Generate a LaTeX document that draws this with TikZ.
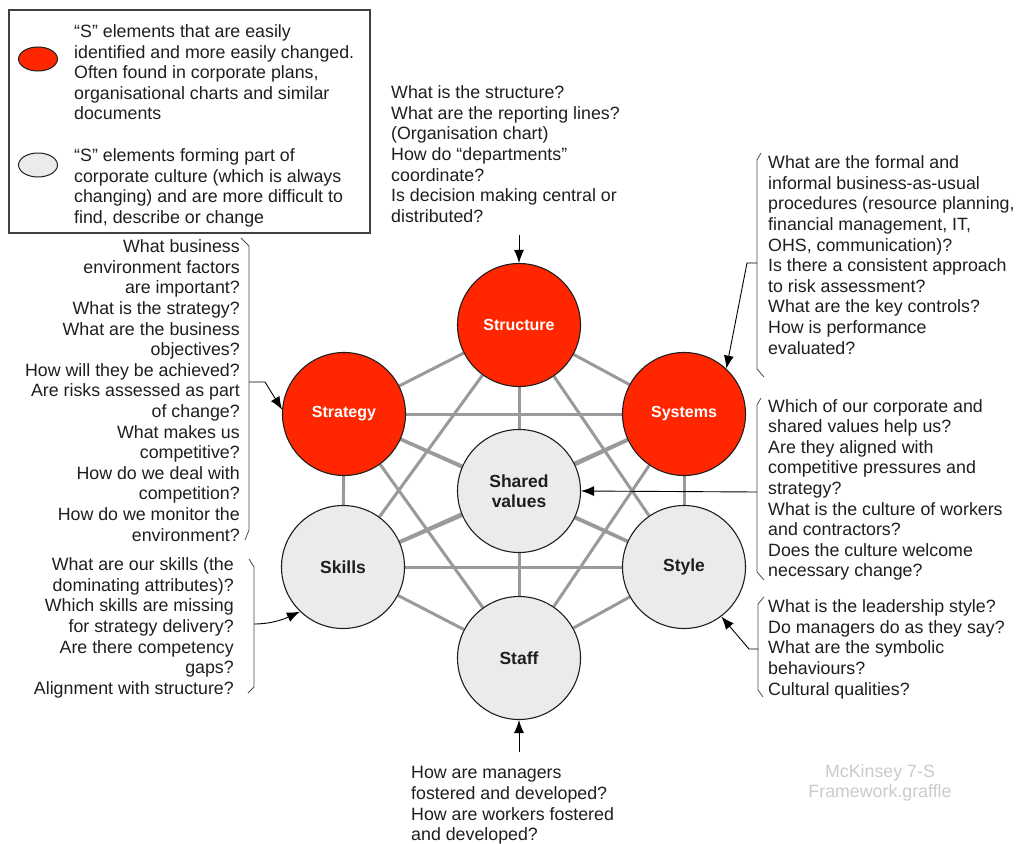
\documentclass[tikz,border=0pt]{standalone}
\usepackage{fontspec}
\setmainfont{Liberation Sans}
\usetikzlibrary{arrows.meta,shapes.geometric}
\pgfdeclarelayer{bg}
\pgfsetlayers{bg,main}
\definecolor{sred}{HTML}{FF2600}
\definecolor{sgrey}{HTML}{EBEBEB}
\definecolor{edgegrey}{HTML}{9A9A9A}
\definecolor{ink}{HTML}{1E1E1E}
\definecolor{wmark}{HTML}{CACACA}
\tikzset{
    hard/.style={circle, draw=ink, line width=1.1pt, fill=sred, minimum size=123pt, inner sep=0pt, text=white, font=\fontsize{16}{19}\selectfont\bfseries},
    soft/.style={circle, draw=ink, line width=1.1pt, fill=sgrey, minimum size=123pt, inner sep=0pt, text=ink, align=center, font=\fontsize{17.5}{20.4}\selectfont\bfseries},
    key/.style={ellipse, draw=ink, line width=1pt, minimum width=39pt, minimum height=24pt, inner sep=0pt},
    question/.style={inner sep=0pt, text=ink, font=\fontsize{17.8}{20.6}\selectfont},
    link/.style={draw=edgegrey, line width=3pt},
    pointer/.style={draw=black, line width=0.9pt, -{Latex[length=13pt,width=10pt]}},
    bracket/.style={draw=ink!80, line width=0.8pt}
}

\begin{document}
\begin{tikzpicture}
    \useasboundingbox (0pt,0pt) rectangle (1019pt,-843pt);

    % legend
    \draw [draw=ink!85, line width=1.4pt] (9pt,-10pt) rectangle (370pt,-233pt);
    \node (keyhard) [key, fill=sred] at (38pt,-59pt) {};
    \node (keysoft) [key, fill=sgrey] at (38pt,-165pt) {};
    \node (keyhardtext) [question, anchor=north west, align=left] at (74pt,-24.5pt) {“S” elements that are easily\\identified and more easily changed.\\Often found in corporate plans,\\organisational charts and similar\\documents};
    \node (keysofttext) [question, anchor=north west, align=left] at (74pt,-148.5pt) {“S” elements forming part of\\corporate culture (which is always\\changing) and are more difficult to\\find, describe or change};

    % the seven S
    \node (structure) [hard] at (519pt,-325pt) {Structure};
    \node (strategy) [hard] at (344pt,-414pt) {Strategy};
    \node (systems) [hard] at (684pt,-414pt) {Systems};
    \node (shared) [soft] at (519pt,-491pt) {Shared\\values};
    \node (skills) [soft] at (343pt,-567pt) {Skills};
    \node (style) [soft] at (684pt,-567pt) {Style};
    \node (staff) [soft] at (519pt,-658pt) {Staff};

    \begin{pgfonlayer}{bg}
        \begin{scope}[link]
            \draw (structure) edge (strategy);
            \draw (structure) edge (systems);
            \draw (structure) edge (shared);
            \draw (structure) edge (skills);
            \draw (structure) edge (style);
            \draw (structure) edge (staff);
            \draw (strategy) edge (systems);
            \draw (strategy) edge (shared);
            \draw (strategy) edge (skills);
            \draw (strategy) edge (style);
            \draw (strategy) edge (staff);
            \draw (systems) edge (shared);
            \draw (systems) edge (skills);
            \draw (systems) edge (style);
            \draw (systems) edge (staff);
            \draw (shared) edge (skills);
            \draw (shared) edge (style);
            \draw (shared) edge (staff);
            \draw (skills) edge (style);
            \draw (skills) edge (staff);
            \draw (style) edge (staff);
        \end{scope}
    \end{pgfonlayer}

    % questions
    \node (structureq) [question, anchor=north west, align=left] at (391pt,-85.5pt) {What is the structure?\\What are the reporting lines?\\(Organisation chart)\\How do “departments”\\coordinate?\\Is decision making central or\\distributed?};
    \node (systemsq) [question, anchor=north west, align=left] at (768pt,-155.5pt) {What are the formal and\\informal business-as-usual\\procedures (resource planning,\\financial management, IT,\\OHS, communication)?\\Is there a consistent approach\\to risk assessment?\\What are the key controls?\\How is performance\\evaluated?};
    \node (sharedq) [question, anchor=north west, align=left] at (768pt,-399pt) {Which of our corporate and\\shared values help us?\\Are they aligned with\\competitive pressures and\\strategy?\\What is the culture of workers\\and contractors?\\Does the culture welcome\\necessary change?};
    \node (styleq) [question, anchor=north west, align=left] at (768pt,-599.5pt) {What is the leadership style?\\Do managers do as they say?\\What are the symbolic\\behaviours?\\Cultural qualities?};
    \node (strategyq) [question, anchor=north east, align=right] at (240pt,-239.5pt) {What business\\environment factors\\are important?\\What is the strategy?\\What are the business\\objectives?\\How will they be achieved?\\Are risks assessed as part\\of change?\\What makes us\\competitive?\\How do we deal with\\competition?\\How do we monitor the\\environment?};
    \node (skillsq) [question, anchor=north east, align=right] at (234pt,-557.5pt) {What are our skills (the\\dominating attributes)?\\Which skills are missing\\for strategy delivery?\\Are there competency\\gaps?\\Alignment with structure?};
    \node (staffq) [question, anchor=north west, align=left] at (411pt,-766.5pt) {How are managers\\fostered and developed?\\How are workers fostered\\and developed?};
    \node (credit) [question, text=wmark, align=center] at (880pt,-783pt) {McKinsey 7-S\\Framework.graffle};

    % brackets
    \draw [bracket] (761pt,-153pt) -- (757pt,-160pt) -- (757pt,-369pt) -- (764pt,-377pt);
    \draw [bracket] (761pt,-398pt) -- (757pt,-405pt) -- (757pt,-572pt) -- (764pt,-580pt);
    \draw [bracket] (764pt,-597pt) -- (758pt,-604pt) -- (758pt,-690pt) -- (763pt,-697pt);
    \draw [bracket] (241pt,-238pt) -- (249pt,-246pt) -- (249pt,-530pt) -- (245pt,-540pt);
    \draw [bracket] (249pt,-559pt) -- (254pt,-567pt) -- (254pt,-687pt) -- (248pt,-693pt);

    \coordinate (systemsk) at (757pt,-263pt);
    \coordinate (sharedk) at (757pt,-492pt);
    \coordinate (stylek) at (758pt,-649pt);
    \coordinate (strategyk) at (249pt,-382pt);
    \coordinate (skillsk) at (254pt,-624pt);
    \coordinate (structuretop) at (519pt,-235pt);
    \coordinate (staffbottom) at (519pt,-752pt);

    % pointers
    \draw [pointer] (structuretop) -- (structure.north);
    \draw [pointer] (staffbottom) -- (staff.south);
    \draw [pointer] (systemsk) -- ++(-10pt,0pt) -- (systems.47);
    \draw [pointer] (sharedk) -- (shared.east);
    \draw [pointer] (stylek) -- ++(-9pt,0pt) -- (style.307);
    \draw [pointer] (strategyk) -- ++(16pt,0pt) -- (strategy.176);
    \draw [pointer] (skillsk) .. controls (270pt,-624pt) and (282pt,-620pt) .. (skills.226);
\end{tikzpicture}
\end{document}
